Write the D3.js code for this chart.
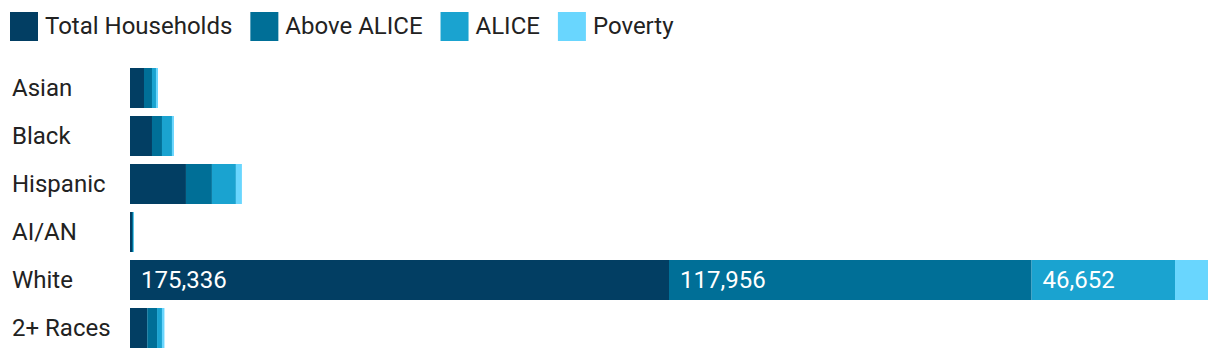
<!DOCTYPE html>
<html>
<head>
<meta charset="utf-8">
<script src="https://cdn.jsdelivr.net/npm/d3@7"></script>
<style>
  body { margin: 0; background: #fff; }
  text { font-family: Roboto, "Noto Sans", sans-serif; }
</style>
</head>
<body>
<svg id="svg"></svg>
<script>
// Household counts by race/ethnicity
const categories = ['Asian', 'Black', 'Hispanic', 'AI/AN', 'White', '2+ Races'];
const seriesNames = ['Total Households', 'Above ALICE', 'ALICE', 'Poverty'];
const totalHouseholds = [4550, 7150, 18200, 650, 175336, 5600];
const aboveAlice = [2600, 3250, 8450, 330, 117956, 3200];
const alice = [1300, 3250, 7800, 230, 46652, 1600];
const poverty = [650, 650, 1950, 90, 10728, 800];

const colors = ['#023e63', '#006f97', '#1aa3d0', '#69d6fe'];

const width = 1220;
const height = 360;

const svg = d3.select('#svg')
  .attr('width', width)
  .attr('height', height);

// table for the stack layout
const rows = categories.map((c, i) => ({
  category: c,
  'Total Households': totalHouseholds[i],
  'Above ALICE': aboveAlice[i],
  'ALICE': alice[i],
  'Poverty': poverty[i]
}));

const stacked = d3.stack().keys(seriesNames)(rows);

const x = d3.scaleLinear()
  .domain([0, d3.max(rows, d => seriesNames.reduce((s, k) => s + d[k], 0))])
  .range([130, 1208]);

const y = d3.scaleBand()
  .domain(categories)
  .range([64, 352])
  .paddingInner(1 / 6)
  .paddingOuter(1 / 12);

const color = d3.scaleOrdinal().domain(seriesNames).range(colors);

// Legend
const legend = svg.append('g').attr('class', 'legend');
let lx = 10;
seriesNames.forEach(name => {
  legend.append('rect')
    .attr('x', lx)
    .attr('y', 12)
    .attr('width', 28)
    .attr('height', 29)
    .attr('fill', color(name));
  const t = legend.append('text')
    .attr('x', lx + 35)
    .attr('y', 26)
    .attr('dy', '0.35em')
    .attr('font-size', '24px')
    .attr('fill', '#222')
    .text(name);
  lx += 35 + t.node().getComputedTextLength() + 18;
});

// Category labels
svg.append('g')
  .selectAll('text')
  .data(categories)
  .join('text')
  .attr('x', 12)
  .attr('y', d => y(d) + y.bandwidth() / 2)
  .attr('dy', '0.35em')
  .attr('font-size', '24px')
  .attr('fill', '#222')
  .text(d => d);

// Bars
const layers = svg.append('g')
  .selectAll('g')
  .data(stacked)
  .join('g')
  .attr('fill', d => color(d.key));

layers.selectAll('rect')
  .data(d => d)
  .join('rect')
  .attr('x', d => x(d[0]))
  .attr('y', d => y(d.data.category))
  .attr('width', d => x(d[1]) - x(d[0]))
  .attr('height', y.bandwidth());

// Value labels inside wide segments
const fmt = d3.format(',');
layers.selectAll('text')
  .data(d => d.map(v => ({ v, key: d.key })))
  .join('text')
  .filter(d => x(d.v[1]) - x(d.v[0]) > 90)
  .attr('x', d => x(d.v[0]) + 11)
  .attr('y', d => y(d.v.data.category) + y.bandwidth() / 2)
  .attr('dy', '0.35em')
  .attr('font-size', '24px')
  .attr('fill', '#fff')
  .text(d => fmt(d.v.data[d.key]));
</script>
</body>
</html>
